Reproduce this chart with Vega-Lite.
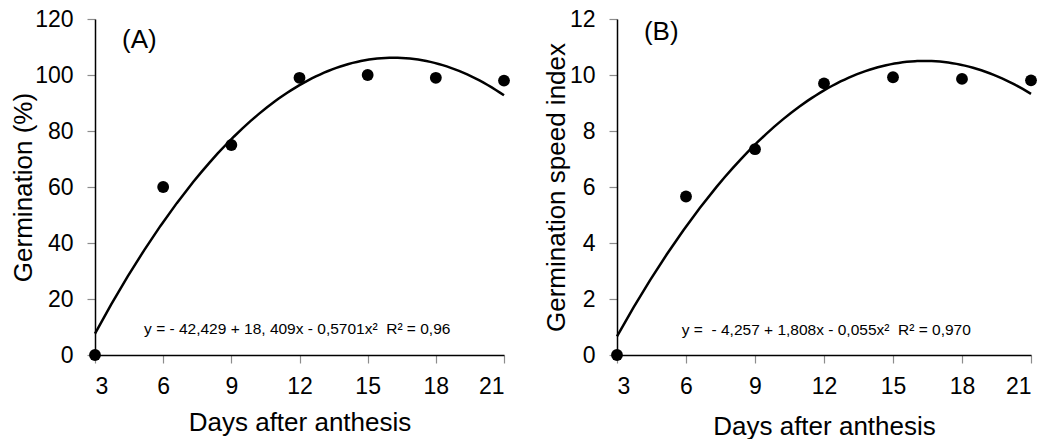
{
  "$schema": "https://vega.github.io/schema/vega-lite/v6.json",
  "background": "white",
  "padding": {"left": 10, "top": 8, "right": 5, "bottom": 0},
  "spacing": 113,
  "bounds": "flush",
  "config": {
    "font": "Liberation Sans",
    "view": {"stroke": null},
    "axis": {
      "grid": false,
      "domainColor": "black",
      "domainWidth": 1.5,
      "tickColor": "#8c8c8c",
      "tickWidth": 1.2,
      "tickSize": 8,
      "labelFont": "Liberation Sans",
      "labelFontSize": 23,
      "labelColor": "black",
      "labelPadding": 12,
      "titleFont": "Liberation Sans",
      "titleFontSize": 26,
      "titleFontWeight": "normal",
      "titleColor": "black"
    }
  },
  "datasets": {
    "germ": [
      {"day": 3, "value": 0},
      {"day": 6, "value": 60},
      {"day": 9, "value": 75},
      {"day": 12, "value": 99},
      {"day": 15, "value": 100},
      {"day": 18, "value": 99},
      {"day": 21, "value": 98}
    ],
    "gsi": [
      {"day": 3, "value": 0},
      {"day": 6, "value": 5.66},
      {"day": 9, "value": 7.35},
      {"day": 12, "value": 9.7},
      {"day": 15, "value": 9.92},
      {"day": 18, "value": 9.86},
      {"day": 21, "value": 9.81}
    ]
  },
  "hconcat": [
    {
      "width": 409,
      "height": 336,
      "layer": [
        {
          "data": {"name": "germ"},
          "transform": [{"regression": "value", "on": "day", "method": "poly", "order": 2, "extent": [3, 21]}],
          "mark": {"type": "line", "color": "black", "strokeWidth": 2.5},
          "encoding": {
            "x": {"field": "day", "type": "quantitative", "scale": {"domain": [3, 21], "nice": false},
                  "axis": {"values": [3, 6, 9, 12, 15, 18, 21], "title": "Days after anthesis", "titlePadding": 11}},
            "y": {"field": "value", "type": "quantitative", "scale": {"domain": [0, 120], "nice": false},
                  "axis": {"values": [0, 20, 40, 60, 80, 100, 120], "title": "Germination (%)", "titlePadding": -2, "labelPadding": 14}}
          }
        },
        {
          "data": {"name": "germ"},
          "mark": {"type": "circle", "color": "black", "size": 140, "opacity": 1},
          "encoding": {
            "x": {"field": "day", "type": "quantitative"},
            "y": {"field": "value", "type": "quantitative"}
          }
        },
        {
          "data": {"values": [{}]},
          "mark": {"type": "text", "fontSize": 15.5, "align": "center", "baseline": "middle", "color": "black", "font": "Liberation Sans"},
          "encoding": {
            "x": {"datum": 11.9, "type": "quantitative"},
            "y": {"datum": 9.3, "type": "quantitative"},
            "text": {"value": "y = - 42,429 + 18, 409x - 0,5701x²\u00a0\u00a0R² = 0,96"}
          }
        },
        {
          "data": {"values": [{}]},
          "mark": {"type": "text", "fontSize": 26, "align": "left", "baseline": "middle", "color": "black", "font": "Liberation Sans"},
          "encoding": {
            "x": {"datum": 4.19, "type": "quantitative"},
            "y": {"datum": 112.5, "type": "quantitative"},
            "text": {"value": "(A)"}
          }
        }
      ]
    },
    {
      "width": 414,
      "height": 336,
      "layer": [
        {
          "data": {"name": "gsi"},
          "transform": [{"regression": "value", "on": "day", "method": "poly", "order": 2, "extent": [3, 21]}],
          "mark": {"type": "line", "color": "black", "strokeWidth": 2.5},
          "encoding": {
            "x": {"field": "day", "type": "quantitative", "scale": {"domain": [3, 21], "nice": false},
                  "axis": {"values": [3, 6, 9, 12, 15, 18, 21], "title": "Days after anthesis", "titlePadding": 15}},
            "y": {"field": "value", "type": "quantitative", "scale": {"domain": [0, 12], "nice": false},
                  "axis": {"values": [0, 2, 4, 6, 8, 10, 12], "title": "Germination speed index", "titlePadding": 0, "labelPadding": 14}}
          }
        },
        {
          "data": {"name": "gsi"},
          "mark": {"type": "circle", "color": "black", "size": 140, "opacity": 1},
          "encoding": {
            "x": {"field": "day", "type": "quantitative"},
            "y": {"field": "value", "type": "quantitative"}
          }
        },
        {
          "data": {"values": [{}]},
          "mark": {"type": "text", "fontSize": 15.5, "align": "center", "baseline": "middle", "color": "black", "font": "Liberation Sans"},
          "encoding": {
            "x": {"datum": 12.1, "type": "quantitative"},
            "y": {"datum": 0.9, "type": "quantitative"},
            "text": {"value": "y =\u00a0 - 4,257 + 1,808x - 0,055x²\u00a0\u00a0R² = 0,970"}
          }
        },
        {
          "data": {"values": [{}]},
          "mark": {"type": "text", "fontSize": 26, "align": "left", "baseline": "middle", "color": "black", "font": "Liberation Sans"},
          "encoding": {
            "x": {"datum": 4.17, "type": "quantitative"},
            "y": {"datum": 11.53, "type": "quantitative"},
            "text": {"value": "(B)"}
          }
        }
      ]
    }
  ]
}
